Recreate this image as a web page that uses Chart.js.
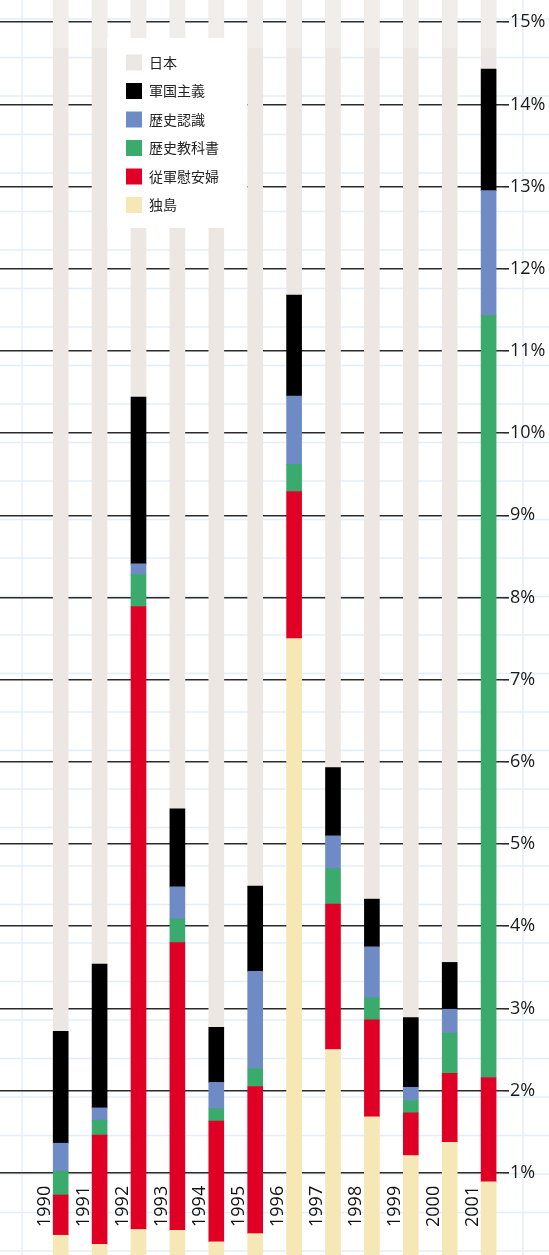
<!DOCTYPE html>
<html>
<head>
<meta charset="utf-8">
<script src="https://cdn.jsdelivr.net/npm/chart.js@4"></script>
<style>
  html, body { margin: 0; padding: 0; background: #fff; }
  #wrap { width: 549px; height: 1255px; }
</style>
</head>
<body>
<div id="wrap"><canvas id="chart" width="549" height="1255"></canvas></div>
<script>
const years = [1990, 1991, 1992, 1993, 1994, 1995, 1996, 1997, 1998, 1999, 2000, 2001];

// stacked from the bottom up, in percent
const dokdo    = [0.24, 0.13, 0.31, 0.30, 0.16, 0.26, 7.50, 2.50, 1.68, 1.21, 1.37, 0.89];
const ianfu    = [0.49, 1.33, 7.58, 3.50, 1.47, 1.79, 1.79, 1.77, 1.18, 0.52, 0.84, 1.27];
const kyokasho = [0.29, 0.18, 0.39, 0.29, 0.15, 0.22, 0.33, 0.43, 0.27, 0.15, 0.49, 9.27];
const ninshiki = [0.34, 0.15, 0.13, 0.39, 0.32, 1.18, 0.83, 0.40, 0.62, 0.16, 0.29, 1.52];
const gunkoku  = [1.36, 1.75, 2.03, 0.95, 0.67, 1.04, 1.23, 0.83, 0.58, 0.85, 0.57, 1.48];
const nihon    = [97.28, 96.47, 89.56, 94.58, 97.23, 95.50, 88.33, 94.08, 95.66, 97.11, 96.44, 85.56];

const yTicks = [1, 2, 3, 4, 5, 6, 7, 8, 9, 10, 11, 12, 13, 14, 15];

const series = [
  { label: "独島", data: dokdo, color: "#f5e8b6" },
  { label: "従軍慰安婦", data: ianfu, color: "#e00025" },
  { label: "歴史教科書", data: kyokasho, color: "#3aaa6d" },
  { label: "歴史認識", data: ninshiki, color: "#6e8bc6" },
  { label: "軍国主義", data: gunkoku, color: "#000000" },
  { label: "日本", data: nihon, color: "#ece7e3" },
];

// graph-paper background
const paperGrid = {
  id: "paperGrid",
  beforeDraw(chart) {
    const ctx = chart.ctx;
    ctx.save();
    ctx.fillStyle = "#fff";
    ctx.fillRect(0, 0, chart.width, chart.height);
    ctx.strokeStyle = "#e4eef9";
    ctx.lineWidth = 1.5;
    ctx.beginPath();
    for (let x = 22; x < chart.width; x += 38.54) {
      ctx.moveTo(x, 0);
      ctx.lineTo(x, chart.height);
    }
    for (let y = 19; y < chart.height; y += 38.5) {
      ctx.moveTo(0, y);
      ctx.lineTo(chart.width, y);
    }
    ctx.stroke();
    ctx.restore();
  },
};

// fade on top of grey bars, legend box, year labels
const overlay = {
  id: "overlay",
  afterDatasetsDraw(chart) {
    const ctx = chart.ctx;
    ctx.save();

    const top = chart.getDatasetMeta(series.length - 1);
    ctx.fillStyle = "rgba(255,255,255,0.25)";
    top.data.forEach((bar) => {
      ctx.fillRect(bar.x - bar.width / 2, chart.chartArea.top, bar.width, 48);
    });

    // legend
    ctx.fillStyle = "#fff";
    ctx.fillRect(107, 38, 140, 190);
    ctx.font = '14px "Noto Sans CJK JP"';
    ctx.textBaseline = "middle";
    ctx.textAlign = "left";
    series.slice().reverse().forEach((s, i) => {
      const y = 62.5 + i * 28.5;
      ctx.fillStyle = s.color;
      ctx.fillRect(126, y - 8, 16, 16);
      ctx.fillStyle = "#222";
      ctx.fillText(s.label, 149, y);
    });

    // year labels
    const xs = chart.scales.x;
    ctx.font = '18px "Open Sans"';
    ctx.fillStyle = "#111";
    years.forEach((yr) => {
      const cx = xs.getPixelForValue(yr);
      ctx.save();
      ctx.translate(cx - 16, 1227);
      ctx.rotate(-Math.PI / 2);
      ctx.fillText(String(yr), 0, 0);
      ctx.restore();
    });
    ctx.restore();
  },
};

new Chart(document.getElementById("chart"), {
  type: "bar",
  data: {
    datasets: series.map((s) => ({
      label: s.label,
      data: years.map((yr, i) => ({ x: yr, y: s.data[i] })),
      backgroundColor: s.color,
      borderWidth: 0,
      barThickness: 15,
    })),
  },
  options: {
    responsive: false,
    animation: false,
    layout: { padding: 0 },
    plugins: { legend: { display: false }, tooltip: { enabled: false } },
    scales: {
      x: {
        type: "linear",
        stacked: true,
        offset: false,
        min: 1988.44,
        max: 2001.37,
        display: false,
      },
      y: {
        position: "right",
        stacked: true,
        min: 0,
        max: 15.27,
        afterBuildTicks: (s) => {
          s.ticks = yTicks.map((v) => ({ value: v }));
        },
        afterFit: (s) => {
          s.width = 46;
          s.paddingTop = 0;
          s.paddingBottom = 0;
        },
        border: { display: false },
        grid: { color: "#2b2b2b", lineWidth: 1.6, tickLength: 6, drawTicks: true },
        ticks: {
          padding: 1,
          color: "#1a1a1a",
          font: { family: "Open Sans", size: 18 },
          callback: (v) => v + "%",
        },
      },
    },
  },
  plugins: [paperGrid, overlay],
});
</script>
</body>
</html>
